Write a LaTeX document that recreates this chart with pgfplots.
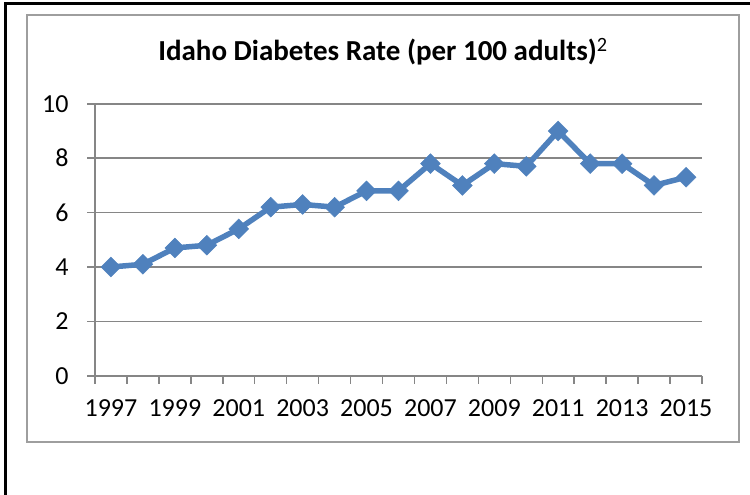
\documentclass[border=0pt]{standalone}
\usepackage{pgfplots}
\pgfplotsset{compat=1.18}
\usepackage{fontspec}
\setmainfont{Carlito}
\definecolor{xlblue}{RGB}{79,129,189}
\definecolor{gridgray}{RGB}{134,134,134}
\begin{document}
\begin{tikzpicture}[x=1pt,y=1pt]
\useasboundingbox (0,0) rectangle (750,-495);
% outer black frame (left and top)
\draw[black, line width=3pt] (5.5,-495) -- (5.5,-4) -- (750,-4);
% chart area gray frame
\draw[gridgray!80, line width=1.5pt] (27,-15) rectangle (739,-442);
% title
\node[anchor=base, inner sep=0pt] at (383,-61) {\fontsize{29}{33}\selectfont\bfseries Idaho Diabetes Rate (per 100 adults)\textsuperscript{\mdseries 2}};
\begin{axis}[
  at={(95pt,-375.8pt)}, anchor=origin,
  scale only axis, width=607pt, height=272pt,
  xmin=1996.5, xmax=2015.5, ymin=0, ymax=10,
  axis x line*=bottom, axis y line*=left,
  axis line style={gridgray, line width=1.5pt},
  ytick={0,2,4,6,8,10},
  xtick={1996.5,1997.5,...,2015.5},
  xticklabels={},
  extra x ticks={1997,1999,...,2015},
  extra x tick style={major tick length=0pt, xticklabel style={yshift=-20pt}},
  /pgf/number format/1000 sep={},
  /pgf/number format/assume math mode=true,
  tick align=outside, major tick length=8pt,
  tick style={gridgray, line width=1.5pt},
  ymajorgrids, grid style={gridgray, line width=1.5pt},
  ticklabel style={font=\fontsize{26}{30}\selectfont, text=black},
  yticklabel style={xshift=-15pt},
  clip=false,
]
\addplot[xlblue, line width=5.5pt, mark=square*, mark size=7pt,
  mark options={solid, rotate=45, fill=xlblue, draw=xlblue, line width=0.5pt}]
  coordinates {
  (1997,4.0) (1998,4.1) (1999,4.7) (2000,4.8) (2001,5.4) (2002,6.2)
  (2003,6.3) (2004,6.2) (2005,6.8) (2006,6.8) (2007,7.8) (2008,7.0)
  (2009,7.8) (2010,7.7) (2011,9.0) (2012,7.8) (2013,7.8) (2014,7.0)
  (2015,7.3)
  };
\end{axis}
\end{tikzpicture}
\end{document}
